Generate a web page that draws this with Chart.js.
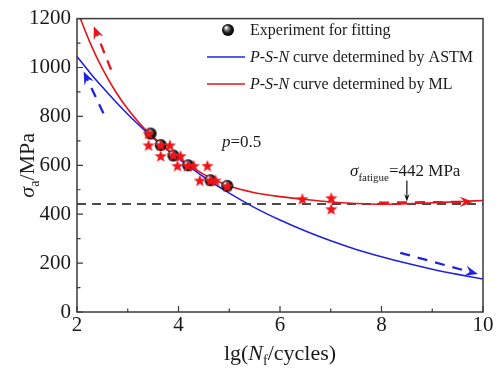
<!DOCTYPE html>
<html>
<head>
<meta charset="utf-8">
<script src="https://cdn.jsdelivr.net/npm/chart.js@4.4.1/dist/chart.umd.min.js"></script>
<style>
  html, body { margin: 0; padding: 0; background: #fff; }
  canvas { display: block; }
</style>
</head>
<body>
<canvas id="chart" width="499" height="381"></canvas>
<script>
// values
const curveX = [2, 2.25, 2.5, 2.75, 3, 3.25, 3.5, 3.75, 4, 4.5, 5, 5.5, 6, 6.5, 7, 7.5, 8, 8.5, 9, 9.5, 10];
const astmY = [1045, 980, 920, 863, 809, 759, 712, 668, 627, 552, 486, 427, 376, 331, 291, 256, 226, 199, 175, 154, 135];
const mlY = [1235, 1105, 995, 905, 830, 768, 716, 670, 630, 563, 515, 488, 472, 460, 450, 444, 441, 443, 447, 451, 456];

const expX = [3.45, 3.65, 3.90, 4.19, 4.63, 4.96];
const expY = [730, 683, 640, 600, 539, 516];

const starX = [3.41, 3.41, 3.65, 3.83, 3.65, 3.90, 4.04, 3.98, 4.18, 4.30, 4.57, 4.42, 4.63, 4.73, 4.96, 6.44, 7.01, 7.01];
const starY = [730, 682, 682, 682, 638, 642, 638, 598, 598, 598, 598, 538, 538, 538, 514, 462, 466, 421];

const fatigueLimit = 442;
const xTicks = [2, 4, 6, 8, 10];
const yTicks = [0, 200, 400, 600, 800, 1000, 1200];

// dashed arrows, in data units
const arrows = [
    { from: [2.67, 991], to: [2.33, 1169], color: '#e8141a' },
    { from: [2.52, 813], to: [2.13, 984], color: '#1f23e0' },
    { from: [8.37, 242], to: [9.9, 155], color: '#1f23e0' },
    { from: [7.95, 447], to: [9.8, 451], color: '#e8141a' }
];

const serif = "'Liberation Serif', 'Times New Roman', serif";
const textColor = '#1a1a1a';

// black shaded ball
const ball = document.createElement('canvas');
ball.width = 14; ball.height = 14;
(function () {
    let c = ball.getContext('2d');
    let g = c.createRadialGradient(5, 4.5, 0.5, 7, 7, 6.5);
    g.addColorStop(0, '#ffffff');
    g.addColorStop(0.25, '#8a8a8a');
    g.addColorStop(0.6, '#1a1a1a');
    g.addColorStop(1, '#000000');
    c.fillStyle = g;
    c.beginPath();
    c.arc(7, 7, 6, 0, Math.PI * 2);
    c.fill();
})();

// red star
const star = document.createElement('canvas');
star.width = 14; star.height = 14;
(function () {
    let c = star.getContext('2d');
    c.fillStyle = '#f0141a';
    c.beginPath();
    for (let i = 0; i < 10; i++) {
        let r = i % 2 === 0 ? 6.5 : 2.7;
        let a = -Math.PI / 2 + i * Math.PI / 5;
        let px = 7 + r * Math.cos(a), py = 7.5 + r * Math.sin(a);
        if (i === 0) c.moveTo(px, py); else c.lineTo(px, py);
    }
    c.closePath();
    c.fill();
})();

function pts(xs, ys) {
    return xs.map((x, i) => ({ x: x, y: ys[i] }));
}

function drawArrowHead(ctx, x0, y0, x1, y1, len, wing) {
    let a = Math.atan2(y1 - y0, x1 - x0);
    ctx.beginPath();
    ctx.moveTo(x1, y1);
    ctx.lineTo(x1 - len * Math.cos(a - wing), y1 - len * Math.sin(a - wing));
    ctx.lineTo(x1 - len * 0.6 * Math.cos(a), y1 - len * 0.6 * Math.sin(a));
    ctx.lineTo(x1 - len * Math.cos(a + wing), y1 - len * Math.sin(a + wing));
    ctx.closePath();
    ctx.fill();
}

// draws pieces [text, font, dy] left to right
function drawRuns(ctx, x, y, runs) {
    runs.forEach(r => {
        ctx.font = r[1];
        ctx.fillText(r[0], x, y + (r[2] || 0));
        x += ctx.measureText(r[0]).width;
    });
    return x;
}
function runsWidth(ctx, runs) {
    let w = 0;
    runs.forEach(r => { ctx.font = r[1]; w += ctx.measureText(r[0]).width; });
    return w;
}

const decorPlugin = {
    id: 'decor',
    afterDatasetsDraw(chart) {
        const ctx = chart.ctx;
        const xs = chart.scales.x, ys = chart.scales.y;
        const area = chart.chartArea;

        // dashed arrows
        arrows.forEach(a => {
            let x0 = xs.getPixelForValue(a.from[0]), y0 = ys.getPixelForValue(a.from[1]);
            let x1 = xs.getPixelForValue(a.to[0]), y1 = ys.getPixelForValue(a.to[1]);
            let ang = Math.atan2(y1 - y0, x1 - x0);
            ctx.save();
            ctx.strokeStyle = a.color;
            ctx.fillStyle = a.color;
            ctx.lineWidth = 2.3;
            ctx.setLineDash([10, 8]);
            ctx.beginPath();
            ctx.moveTo(x0, y0);
            ctx.lineTo(x1 - 8 * Math.cos(ang), y1 - 8 * Math.sin(ang));
            ctx.stroke();
            ctx.setLineDash([]);
            drawArrowHead(ctx, x0, y0, x1, y1, 14, 0.38);
            ctx.restore();
        });

        // frame
        ctx.save();
        ctx.strokeStyle = '#3a3a3a';
        ctx.lineWidth = 1.5;
        ctx.strokeRect(area.left, area.top, area.right - area.left, area.bottom - area.top);

        // inward ticks
        ctx.lineWidth = 1.2;
        ctx.beginPath();
        for (let v = 2; v <= 10; v += 1) {
            let px = xs.getPixelForValue(v);
            let len = v % 2 === 0 ? 6 : 3.5;
            ctx.moveTo(px, area.bottom);
            ctx.lineTo(px, area.bottom - len);
        }
        for (let v = 0; v <= 1200; v += 100) {
            let py = ys.getPixelForValue(v);
            let len = v % 200 === 0 ? 6 : 3.5;
            ctx.moveTo(area.left, py);
            ctx.lineTo(area.left + len, py);
        }
        ctx.stroke();
        ctx.restore();

        // black arrow to the fatigue limit
        ctx.save();
        let ax = xs.getPixelForValue(8.5);
        let ay0 = ys.getPixelForValue(538), ay1 = ys.getPixelForValue(452);
        ctx.strokeStyle = '#111';
        ctx.fillStyle = '#111';
        ctx.lineWidth = 1.2;
        ctx.beginPath();
        ctx.moveTo(ax, ay0);
        ctx.lineTo(ax, ay1 - 4);
        ctx.stroke();
        drawArrowHead(ctx, ax, ay0, ax, ay1, 8, 0.35);
        ctx.restore();

        // texts
        ctx.save();
        ctx.fillStyle = textColor;
        ctx.textBaseline = 'alphabetic';
        drawRuns(ctx, 222, 147, [['p', 'italic 17px ' + serif], ['=0.5', '17px ' + serif]]);
        drawRuns(ctx, 350, 176, [
            ['σ', 'italic 17px ' + serif],
            ['fatigue', '11px ' + serif, 5],
            ['=442 MPa', '17px ' + serif]
        ]);

        // legend
        ctx.drawImage(ball, 228 - 7, 30 - 7);
        ctx.lineWidth = 1.5;
        ctx.strokeStyle = '#1f23e0';
        ctx.beginPath(); ctx.moveTo(207, 57); ctx.lineTo(245, 57); ctx.stroke();
        ctx.strokeStyle = '#e8141a';
        ctx.beginPath(); ctx.moveTo(207, 84); ctx.lineTo(245, 84); ctx.stroke();
        ctx.fillStyle = textColor;
        drawRuns(ctx, 250, 35, [['Experiment for fitting', '16px ' + serif]]);
        drawRuns(ctx, 250, 62, [['P-S-N', 'italic 16px ' + serif], [' curve determined by ASTM', '16px ' + serif]]);
        drawRuns(ctx, 250, 89, [['P-S-N', 'italic 16px ' + serif], [' curve determined by ML', '16px ' + serif]]);

        // x axis title
        let xt = [
            ['lg(', '22px ' + serif],
            ['N', 'italic 22px ' + serif],
            ['f', '14px ' + serif, 5],
            ['/cycles)', '22px ' + serif]
        ];
        drawRuns(ctx, (area.left + area.right) / 2 - runsWidth(ctx, xt) / 2, 360, xt);

        // y axis title
        let yt = [
            ['σ', 'italic 22px ' + serif],
            ['a', '14px ' + serif, 5],
            ['/MPa', '22px ' + serif]
        ];
        ctx.translate(34, (area.top + area.bottom) / 2);
        ctx.rotate(-Math.PI / 2);
        drawRuns(ctx, -runsWidth(ctx, yt) / 2, 0, yt);
        ctx.restore();
    }
};

const tickFont = { family: serif, size: 21 };

new Chart(document.getElementById('chart'), {
    type: 'scatter',
    data: {
        datasets: [
            {
                label: 'stars',
                data: pts(starX, starY),
                pointStyle: star,
                order: 0
            },
            {
                label: 'Experiment for fitting',
                data: pts(expX, expY),
                pointStyle: ball,
                order: 1
            },
            {
                label: 'P-S-N curve determined by ASTM',
                data: pts(curveX, astmY),
                showLine: true,
                borderColor: '#1f23e0',
                borderWidth: 1.6,
                pointRadius: 0,
                cubicInterpolationMode: 'monotone',
                order: 3
            },
            {
                label: 'P-S-N curve determined by ML',
                data: pts(curveX, mlY),
                showLine: true,
                borderColor: '#e8141a',
                borderWidth: 1.6,
                pointRadius: 0,
                cubicInterpolationMode: 'monotone',
                order: 2
            },
            {
                label: 'fatigue limit',
                data: [{ x: 2, y: fatigueLimit }, { x: 10, y: fatigueLimit }],
                showLine: true,
                borderColor: '#111',
                borderWidth: 1.5,
                borderDash: [9, 6],
                pointRadius: 0,
                order: 4
            }
        ]
    },
    options: {
        responsive: false,
        animation: false,
        devicePixelRatio: 1,
        layout: { padding: { top: 13, right: 16, left: 0, bottom: 0 } },
        plugins: {
            legend: { display: false },
            tooltip: { enabled: false }
        },
        scales: {
            x: {
                type: 'linear',
                min: 2,
                max: 10,
                afterBuildTicks: s => { s.ticks = xTicks.map(v => ({ value: v })); },
                ticks: { font: tickFont, color: textColor, padding: 1, maxRotation: 0, callback: v => String(v) },
                grid: { display: false, drawTicks: false },
                border: { display: false },
                afterFit: s => { s.height = 69; }
            },
            y: {
                min: 0,
                max: 1200,
                afterBuildTicks: s => { s.ticks = yTicks.map(v => ({ value: v })); },
                ticks: { font: tickFont, color: textColor, padding: 6, callback: v => String(v) },
                grid: { display: false, drawTicks: false },
                border: { display: false },
                afterFit: s => { s.width = 77; }
            }
        }
    },
    plugins: [decorPlugin]
});
</script>
</body>
</html>
